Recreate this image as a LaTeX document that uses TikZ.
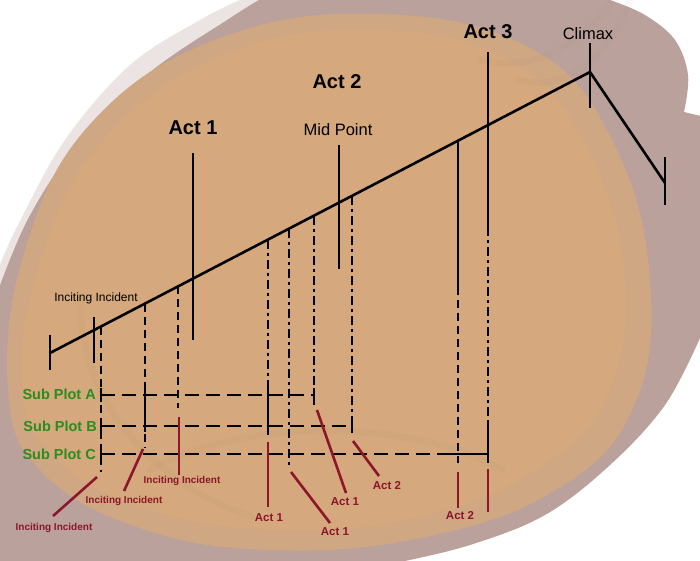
\documentclass[tikz,border=0pt]{standalone}
\usepackage{fontspec}
\setmainfont{Liberation Sans}
\definecolor{tan}{RGB}{213,169,125}
\definecolor{mauve}{RGB}{186,161,155}
\definecolor{streak}{RGB}{140,115,100}
\definecolor{subgreen}{RGB}{45,140,30}
\definecolor{actred}{RGB}{140,22,42}
\tikzset{
  blk/.style={line width=2.6pt, black},
  vdash/.style={blk, dash pattern=on 8pt off 5pt},
  vdashdot/.style={blk, dash pattern=on 9pt off 4pt on 3pt off 4pt},
  subline/.style={blk, dash pattern=on 14pt off 7pt},
  redline/.style={line width=2.6pt, actred},
  bigact/.style={font=\fontsize{20}{24}\selectfont\bfseries, inner sep=0pt},
  midlbl/.style={font=\fontsize{16.5}{20}\selectfont, inner sep=0pt},
  smalllbl/.style={font=\fontsize{12}{14}\selectfont, inner sep=0pt},
  sublbl/.style={font=\fontsize{14.5}{17}\selectfont\bfseries, text=subgreen, inner sep=0pt, anchor=east},
  redinc/.style={font=\fontsize{10}{12}\selectfont\bfseries, text=actred, inner sep=0pt},
  redact/.style={font=\fontsize{11.5}{13}\selectfont\bfseries, text=actred, inner sep=0pt}
}
\begin{document}
\begin{tikzpicture}[x=1pt,y=-1pt]
\useasboundingbox (0,0) rectangle (700,560);
% background
\fill[white] (0,0) rectangle (700,560);
\fill[mauve] (-5,565) -- (-5,290)
  -- plot[smooth, tension=0.6] coordinates {(0,285) (30,215) (80,140) (150,72) (230,18) (262,-2)}
  -- (600,-2)
  -- plot[smooth, tension=0.6] coordinates {(610,0) (645,15) (675,40) (688,75) (684,112)}
  -- (705,117) -- (705,335)
  -- plot[smooth, tension=0.6] coordinates {(700,338) (665,405) (610,465) (545,515) (470,545) (400,562)}
  -- cycle;
\fill[mauve!55!white, opacity=0.5] (0,285)
  -- plot[smooth, tension=0.6] coordinates {(0,285) (30,215) (80,140) (150,72) (230,18) (262,-2)}
  -- (240,-2)
  -- plot[smooth, tension=0.6] coordinates {(240,0) (200,20) (130,65) (65,140) (18,225) (0,265)}
  -- cycle;
\fill[tan!80!mauve] plot[smooth cycle, tension=0.7] coordinates {(8,390) (25,250) (92,122) (220,38) (380,14) (530,48) (612,140) (650,280) (632,410) (552,492) (420,538) (270,550) (140,528) (42,472)};
\fill[tan] plot[smooth cycle, tension=0.7] coordinates {(22,385) (42,255) (108,135) (230,52) (380,30) (512,62) (588,150) (625,280) (605,400) (528,475) (415,518) (280,530) (150,510) (58,460)};
% subtle streak texture
\begin{scope}[opacity=0.045, line width=7pt, streak, line cap=round]
\draw (80,300) arc[start angle=180, end angle=110, x radius=260, y radius=230];
\draw (480,60) arc[start angle=100, end angle=20, x radius=150, y radius=210];
\draw (520,80) arc[start angle=100, end angle=15, x radius=110, y radius=190];
\draw (150,470) arc[start angle=220, end angle=320, x radius=230, y radius=110];
\end{scope}

% main coordinates
\coordinate (start) at (50,353);
\coordinate (peak) at (590,72);
\coordinate (finish) at (665,183);
\coordinate (st1) at (50,335); \coordinate (st2) at (50,370);
\coordinate (ft1) at (665,157); \coordinate (ft2) at (665,205);
\coordinate (pt1) at (590,43); \coordinate (pt2) at (590,108);
\coordinate (it1) at (94,317); \coordinate (it2) at (94,363);
\draw[blk] (start) -- (peak) -- (finish);
\draw[blk] (st1) -- (st2);
\draw[blk] (ft1) -- (ft2);
\draw[blk] (pt1) -- (pt2);
\draw[blk] (it1) -- (it2);
% act markers
\coordinate (a1t) at (193,153); \coordinate (a1b) at (193,340);
\draw[blk] (a1t) -- (a1b);
\coordinate (mpt) at (339,145); \coordinate (mpb) at (339,269);
\draw[blk] (mpt) -- (mpb);
% verticals from the main line
\coordinate (v1t) at (101,326.5); \coordinate (v1b) at (101,472);
\coordinate (v2t) at (145,303.6); \coordinate (v2b) at (145,448);
\coordinate (v3t) at (178,286.4); \coordinate (v3b) at (178,408);
\coordinate (v4t) at (268,239.6); \coordinate (v4b) at (268,435);
\coordinate (v5t) at (289,228.6); \coordinate (v5b) at (289,466);
\coordinate (v6t) at (314,215.6); \coordinate (v6b) at (314,405);
\coordinate (v7t) at (352,195.8); \coordinate (v7b) at (352,435);
\coordinate (v8t) at (458,140.7); \coordinate (v8m) at (458,287); \coordinate (v8b) at (458,463);
\coordinate (a3t) at (488,52); \coordinate (a3m) at (488,227); \coordinate (a3n) at (488,422); \coordinate (a3b) at (488,463);
\draw[vdash] (v1t) -- (v1b);
\draw[vdash] (v2t) -- (v2b);
\draw[vdash] (v3t) -- (v3b);
\draw[vdashdot] (v4t) -- (v4b);
\draw[vdashdot] (v5t) -- (v5b);
\draw[vdashdot] (v6t) -- (v6b);
\draw[vdashdot] (v7t) -- (v7b);
\draw[blk] (v8t) -- (v8m);
\draw[vdash] (v8m) -- (v8b);
\draw[blk] (a3t) -- (a3m);
\draw[vdashdot] (a3m) -- (a3n);
\draw[blk] (a3n) -- (a3b);
% sub plot lines
\coordinate (sAL) at (101,395); \coordinate (sAR) at (314,395);
\coordinate (sBL) at (101,426); \coordinate (sBR) at (352,426);
\coordinate (sCL) at (101,454); \coordinate (sCM) at (442,454); \coordinate (sCR) at (488,454);
\draw[subline] (sAL) -- (sAR);
\draw[subline] (sBL) -- (sBR);
\draw[subline] (sCL) -- (sCM);
\draw[blk] (sCM) -- (sCR);
\foreach \p in {sAL,sBL,sCL,sAR,sBR} { \draw[blk] ([yshift=-7pt]\p) -- ([yshift=7pt]\p); }
\draw[blk] (145,388) -- (145,432);
\draw[blk] (268,388) -- (268,435);
% labels
\node[bigact] (lact1) at (193,128) {Act 1};
\node[bigact] (lact2) at (337,82) {Act 2};
\node[bigact] (lact3) at (488,32) {Act 3};
\node[midlbl] (lclimax) at (588,34) {Climax};
\node[midlbl] (lmid) at (338,130) {Mid Point};
\node[smalllbl] (linc) at (96,298) {Inciting Incident};
\node[sublbl] (lsa) at (96,394) {Sub Plot A};
\node[sublbl] (lsb) at (97,426) {Sub Plot B};
\node[sublbl] (lsc) at (96,454) {Sub Plot C};
% red labels
\node[redinc] (ri1) at (54,528) {Inciting Incident};
\node[redinc] (ri2) at (124,501) {Inciting Incident};
\node[redinc] (ri3) at (182,481) {Inciting Incident};
\node[redact] (ra1) at (269,518) {Act 1};
\node[redact] (ra2) at (335,532) {Act 1};
\node[redact] (ra3) at (345,502) {Act 1};
\node[redact] (ra4) at (387,486) {Act 2};
\node[redact] (ra5) at (460,516) {Act 2};
% red pointers
\coordinate (r1a) at (97,477); \coordinate (r1b) at (53,516);
\coordinate (r2a) at (143,449); \coordinate (r2b) at (124,491);
\coordinate (r3a) at (179,417); \coordinate (r3b) at (179,475);
\coordinate (r4a) at (268,442); \coordinate (r4b) at (268,507);
\coordinate (r5a) at (291,472); \coordinate (r5b) at (330,523);
\coordinate (r6a) at (317,410); \coordinate (r6b) at (346,493);
\coordinate (r7a) at (353,441); \coordinate (r7b) at (379,476);
\coordinate (r8a) at (458,472); \coordinate (r8b) at (458,508);
\coordinate (r9a) at (488,469); \coordinate (r9b) at (488,512);
\draw[redline] (r1a) -- (r1b);
\draw[redline] (r2a) -- (r2b);
\draw[redline] (r3a) -- (r3b);
\draw[redline] (r4a) -- (r4b);
\draw[redline] (r5a) -- (r5b);
\draw[redline] (r6a) -- (r6b);
\draw[redline] (r7a) -- (r7b);
\draw[redline] (r8a) -- (r8b);
\draw[redline] (r9a) -- (r9b);
\end{tikzpicture}
\end{document}
